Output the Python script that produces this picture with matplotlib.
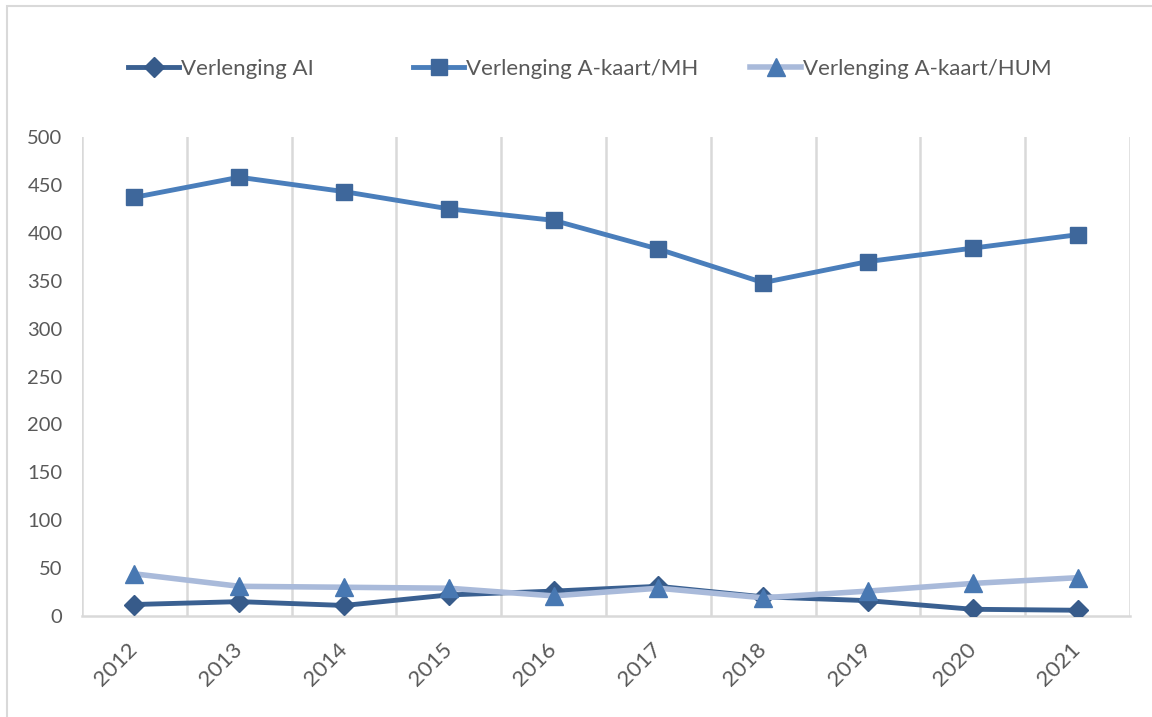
import matplotlib.pyplot as plt
from matplotlib.patches import Rectangle

years = ['2012', '2013', '2014', '2015', '2016', '2017', '2018', '2019', '2020', '2021']
verlenging_ai = [12, 15, 11, 22, 26, 31, 20, 16, 7, 6]
verlenging_mh = [437, 458, 443, 425, 413, 383, 348, 370, 384, 398]
verlenging_hum = [44, 31, 30, 29, 21, 29, 19, 26, 34, 40]

plt.rcParams['font.family'] = ['Lato', 'DejaVu Sans']

fig = plt.figure(figsize=(11.52, 7.17), dpi=100)
ax = fig.add_axes([82 / 1152, 1 - 616 / 717, (1130 - 82) / 1152, (616 - 137) / 717])

x = list(range(len(years)))

ax.plot(x, verlenging_ai, color='#3A6091', linewidth=3.5, marker='D', markersize=10,
        markerfacecolor='#375B8A', markeredgecolor='#375B8A', label='Verlenging AI', zorder=3)
ax.plot(x, verlenging_mh, color='#4A7EBB', linewidth=3.5, marker='s', markersize=12,
        markerfacecolor='#3E679B', markeredgecolor='#3E679B', label='Verlenging A-kaart/MH', zorder=4)
ax.plot(x, verlenging_hum, color='#A9BADA', linewidth=4, marker='^', markersize=13,
        markerfacecolor='#4878B2', markeredgecolor='#4878B2', label='Verlenging A-kaart/HUM', zorder=5)

ax.set_xlim(-0.5, len(years) - 0.5)
ax.set_ylim(0, 500)
ax.set_yticks(range(0, 501, 50))
ax.set_xticks(x)
ax.set_xticklabels(years, rotation=45, ha='right', va='center', rotation_mode='anchor')

# vertical gridlines between categories, like Excel
for b in range(len(years) + 1):
    ax.axvline(b - 0.5, color='#D9D9D9', linewidth=1.8, zorder=1)

for side in ['top', 'right', 'left']:
    ax.spines[side].set_visible(False)
ax.spines['bottom'].set_color('#D9D9D9')
ax.spines['bottom'].set_linewidth(1.8)

ax.tick_params(axis='y', length=0, pad=14, labelsize=14.5, labelcolor='#595959')
ax.tick_params(axis='x', length=0, pad=22, labelsize=16, labelcolor='#595959')

# one legend per entry so the spacing follows the original
handles, labels = ax.get_legend_handles_labels()
legend_x = [128, 413, 750]
for h, lab, lx in zip(handles, labels, legend_x):
    leg = fig.legend([h], [lab], loc='center left', bbox_to_anchor=(lx / 1152, 1 - 69 / 717),
                     frameon=False, fontsize=16, labelcolor='#595959', handlelength=2.3,
                     handletextpad=0.1, numpoints=1, borderpad=0, borderaxespad=0)

# outer chart border
fig.patches.append(Rectangle((7 / 1152, -0.1), 1.2, 1 - 6 / 717 + 0.1, transform=fig.transFigure,
                             fill=False, edgecolor='#D9D9D9', linewidth=1.5))

fig.savefig('out.png', dpi=100)
